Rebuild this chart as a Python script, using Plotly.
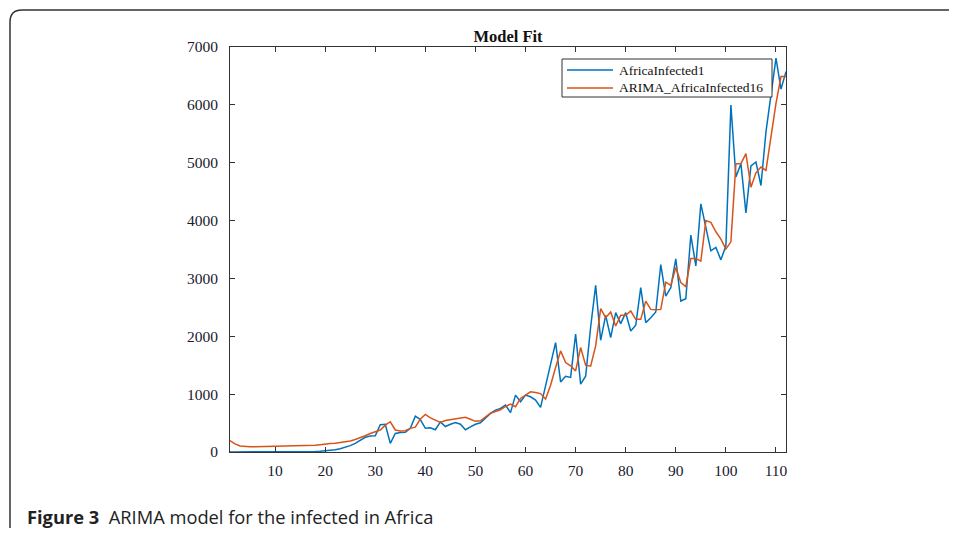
import plotly.graph_objects as go

# Días 1..112
days = list(range(1, 113))

# Serie observada (AfricaInfected1)
africa_infected = [
    0, 0, 0, 0, 0, 0, 0, 0, 0, 0,
    0, 0, 0, 0, 0, 3, 6, 10, 15, 20,
    30, 40, 55, 80, 110, 150, 210, 255, 275, 280,
    470, 480, 150, 320, 335, 340, 410, 620, 560, 410,
    420, 385, 520, 440, 480, 510, 480, 385, 435, 480,
    505, 580, 667, 724, 753, 810, 680, 983, 868, 983,
    954, 897, 770, 1143, 1546, 1891, 1212, 1310, 1290, 2040,
    1172, 1310, 2160, 2879, 1931, 2362, 1978, 2408, 2218, 2408,
    2092, 2190, 2840, 2236, 2322, 2420, 3240, 2695, 2840, 3340,
    2609, 2650, 3750, 3217, 4288, 3854, 3477, 3536, 3321, 3564,
    5995, 4752, 4983, 4132, 4943, 5012, 4606, 5533, 6168, 6806,
    6273, 6575,
]

# Ajuste ARIMA (ARIMA_AfricaInfected16)
arima_fit = [
    195, 140, 105, 95, 92, 92, 93, 93, 95, 97,
    97, 97, 98, 98, 100, 102, 105, 115, 125, 140,
    145, 150, 160, 175, 190, 215, 245, 280, 320, 350,
    380, 465, 523, 380, 362, 368, 408, 430, 570, 650,
    590, 550, 510, 545, 560, 565, 590, 600, 565, 530,
    540, 600, 670, 700, 729, 787, 828, 782, 925, 983,
    1040, 1030, 1010, 914, 1155, 1460, 1747, 1546, 1490, 1402,
    1805, 1500, 1483, 1833, 2477, 2322, 2420, 2178, 2362, 2362,
    2437, 2293, 2293, 2608, 2465, 2460, 2465, 2936, 2880, 3189,
    2929, 2860, 3345, 3345, 3300, 4000, 3970, 3807, 3680, 3507,
    3633, 4983, 4983, 5156, 4578, 4826, 4925, 4866, 5474, 6024,
    6488, 6488,
]

x_ticks = [10, 20, 30, 40, 50, 60, 70, 80, 90, 100, 110]
y_ticks = [0, 1000, 2000, 3000, 4000, 5000, 6000, 7000]

BLUE = "#0072BD"
ORANGE = "#D95319"
SERIF = "Liberation Serif, Times New Roman, serif"

# La página añade 8px de margen al body: todo se desplaza 8px
OFF = 8
W, H = 957 - OFF, 536 - 2 * OFF
L, R, T, B = 230 - OFF, 786 - OFF, 47 - OFF, 452 - OFF  # área del gráfico


def px(x):
    return (x - OFF - L) / (R - L)


def py(y):
    return (B - (y - OFF)) / (B - T)


fig = go.Figure()

fig.add_trace(go.Scatter(
    x=days, y=africa_infected, mode="lines", name="AfricaInfected1",
    line=dict(color=BLUE, width=1.5),
))
fig.add_trace(go.Scatter(
    x=days, y=arima_fit, mode="lines", name="ARIMA_AfricaInfected16",
    line=dict(color=ORANGE, width=1.5),
))

axis_common = dict(
    showgrid=False, zeroline=False,
    showline=True, linecolor="#333", linewidth=1,
    mirror="ticks", ticks="inside", ticklen=5, tickcolor="#333",
    tickfont=dict(family=SERIF, size=15.5, color="#1a1a2e"),
)

fig.update_layout(
    width=W, height=H,
    plot_bgcolor="white", paper_bgcolor="white",
    margin=dict(l=L, r=W - R, t=T, b=H - B),
    showlegend=False,
    xaxis=dict(range=[1, 112], tickvals=x_ticks, ticklabelstandoff=4, **axis_common),
    yaxis=dict(range=[0, 7000], tickvals=y_ticks, ticklabelstandoff=8, **axis_common),
    title=dict(
        text="<b>Model Fit</b>",
        font=dict(family=SERIF, size=16.5, color="#111"),
        x=0.5, xref="paper", xanchor="center",
        y=1 - (36 - OFF) / H, yanchor="middle",
    ),
)

# Leyenda dibujada a mano (caja compacta como en el original)
fig.add_shape(
    type="rect", xref="paper", yref="paper",
    x0=px(562), x1=px(772), y0=py(97), y1=py(59),
    fillcolor="white", line=dict(color="#333", width=1),
)
legend_items = [("AfricaInfected1", BLUE, 70), ("ARIMA_AfricaInfected16", ORANGE, 88)]
for name, color, yy in legend_items:
    fig.add_shape(
        type="line", xref="paper", yref="paper",
        x0=px(567), x1=px(613), y0=py(yy), y1=py(yy),
        line=dict(color=color, width=1.5),
    )
    fig.add_annotation(
        x=px(617), y=py(yy), xref="paper", yref="paper",
        xanchor="left", yanchor="middle", showarrow=False,
        text=name, font=dict(family=SERIF, size=13.5, color="#111"),
    )

# Marco redondeado de la figura (esquina superior izquierda)
r = 12
path = (
    f"M {px(10)},{py(560)} L {px(10)},{py(10 + r)} "
    f"Q {px(10)},{py(10)} {px(10 + r)},{py(10)} "
    f"L {px(980)},{py(10)}"
)
fig.add_shape(
    type="path", path=path, xref="paper", yref="paper",
    line=dict(color="#333", width=1.5),
)

# Pie de figura
fig.add_annotation(
    x=px(26), y=py(516), xref="paper", yref="paper",
    xanchor="left", yanchor="middle", showarrow=False, borderpad=0,
    text="<b>Figure 3</b>  ARIMA model for the infected in Africa",
    font=dict(family="Open Sans, Noto Sans, sans-serif", size=18.3, color="#222"),
)

fig.write_html("out.html")
